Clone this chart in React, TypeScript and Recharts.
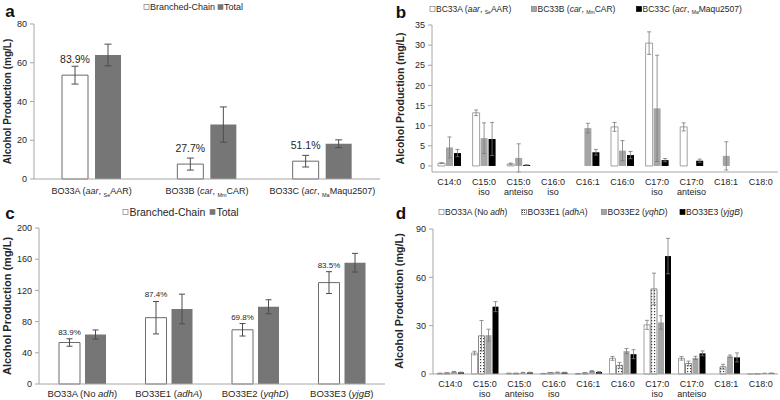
import React from "react"
import { BarChart, Bar, XAxis, YAxis, ErrorBar, LabelList } from "recharts"

const FONT = '"Liberation Sans", Arial, sans-serif'
const TEXT = "#262626"
const AXIS = "#a6a6a6"

// panel a
const aCategories = ["BO33A (*aar*, _Se_AAR)", "BO33B (*car*, _Mm_CAR)", "BO33C (*acr*, _Ma_Maqu2507)"]
const aBranched = [53.6, 7.7, 9.2]
const aBranchedErr = [4.6, 3.1, 3.0]
const aTotal = [64, 28.1, 18.2]
const aTotalErr = [5.6, 9.1, 2.0]
const aPercent = ["83.9%", "27.7%", "51.1%"]

// panel b
const fattyCategories = ["C14:0", "C15:0 iso", "C15:0 anteiso", "C16:0 iso", "C16:1", "C16:0", "C17:0 iso", "C17:0 anteiso", "C18:1", "C18:0"]
const bSeriesNames = ["BC33A (*aar*, _Se_AAR)", "BC33B (*car*, _Mm_CAR)", "BC33C (*acr*, _Ma_Maqu2507)"]
const bc33a = [0.7, 13.2, 0.5, 0, 0, 9.7, 30.5, 9.7, 0, 0]
const bc33aErr = [0.1, 0.7, 0.2, 0, 0, 1.1, 2.8, 1.0, 0, 0]
const bc33b = [4.6, 6.9, 2.0, 0, 9.4, 3.8, 14.3, 0, 2.5, 0]
const bc33bErr = [2.6, 3.8, 3.5, 0, 1.2, 2.5, 13.2, 0, 3.5, 0]
const bc33c = [3.2, 6.7, 0.25, 0, 3.4, 2.7, 1.45, 1.3, 0, 0]
const bc33cErr = [0.9, 4.1, 0.05, 0, 0.7, 0.9, 0.4, 0.4, 0, 0]

// panel c
const cCategories = ["BO33A (No *adh*)", "BO33E1 (*adhA*)", "BO33E2 (*yqhD*)", "BO33E3 (*yjgB*)"]
const cBranched = [53.2, 85, 69.5, 130]
const cBranchedErr = [4.8, 20.8, 8, 14]
const cTotal = [63.5, 96.2, 99, 155.5]
const cTotalErr = [5.8, 19, 9, 12]
const cPercent = ["83.9%", "87.4%", "69.8%", "83.5%"]

// panel d
const dSeriesNames = ["BO33A (No *adh*)", "BO33E1 (*adhA*)", "BO33E2 (*yqhD*)", "BO33E3 (*yjgB*)"]
const bo33a = [0.4, 13, 0.4, 0.3, 0.2, 9.7, 30.5, 9.7, 0, 0.1]
const bo33aErr = [0.1, 1.1, 0.1, 0.1, 0.1, 1.2, 2.8, 1.1, 0, 0]
const bo33e1 = [0.6, 23.7, 0.4, 0.8, 0.6, 5.4, 52.8, 6.5, 4.5, 0.2]
const bo33e1Err = [0.1, 9.5, 0.1, 0.1, 0.2, 1.8, 9.8, 1.5, 1.5, 0]
const bo33e2 = [1.4, 24.1, 0.8, 1.0, 1.8, 14.2, 32, 10, 11, 0.4]
const bo33e2Err = [0.2, 3.7, 0.2, 0.2, 0.3, 1.6, 4.2, 1.0, 0.8, 0.1]
const bo33e3 = [1.0, 41.8, 0.9, 0.9, 1.3, 12.3, 73.2, 12.8, 10.3, 0.5]
const bo33e3Err = [0.2, 3.1, 0.2, 0.2, 0.2, 2.8, 11, 1.5, 2.8, 0.1]

const aRows = aCategories.map((name, i) => ({
  name, bc: aBranched[i], bcErr: aBranchedErr[i], total: aTotal[i], totalErr: aTotalErr[i],
}))
const bRows = fattyCategories.map((name, i) => ({
  name, s1: bc33a[i], e1: bc33aErr[i], s2: bc33b[i], e2: bc33bErr[i], s3: bc33c[i], e3: bc33cErr[i],
}))
const cRows = cCategories.map((name, i) => ({
  name, bc: cBranched[i], bcErr: cBranchedErr[i], total: cTotal[i], totalErr: cTotalErr[i],
}))
const dRows = fattyCategories.map((name, i) => ({
  name, s1: bo33a[i], e1: bo33aErr[i], s2: bo33e1[i], e2: bo33e1Err[i],
  s3: bo33e2[i], e3: bo33e2Err[i], s4: bo33e3[i], e4: bo33e3Err[i],
}))

// tiny markup: *italic*, _subscript_
function Rich({ text, subSize = 5.5 }: { text: string; subSize?: number }) {
  const parts = text.split(/(\*[^*]+\*|_[^_]+_)/).filter(Boolean)
  let down = false
  return (
    <>
      {parts.map((p, i) => {
        const italic = p.startsWith("*")
        const sub = p.startsWith("_")
        const t = italic || sub ? p.slice(1, -1) : p
        let dy: number | undefined
        if (sub && !down) { dy = 3; down = true }
        else if (!sub && down) { dy = -3; down = false }
        return (
          <tspan key={i} dy={dy} fontStyle={italic ? "italic" : undefined} fontSize={sub ? subSize : undefined}>
            {t}
          </tspan>
        )
      })}
    </>
  )
}

function RichTick(props: any) {
  const { x, y, payload, offset, fontSize } = props
  return (
    <text x={x} y={y + offset} textAnchor="middle" fontSize={fontSize} fill={TEXT} fontFamily={FONT}>
      <Rich text={String(payload.value)} />
    </text>
  )
}

function TwoLineTick(props: any) {
  const { x, y, payload, offset, gap, fontSize } = props
  const label = String(payload.value)
  const cut = label.indexOf(" ")
  const lines = cut < 0 ? [label] : [label.slice(0, cut), label.slice(cut + 1)]
  return (
    <text x={x} y={y + offset} textAnchor="middle" fontSize={fontSize} fill={TEXT} fontFamily={FONT}>
      {lines.map((ln, i) => (
        <tspan key={i} x={x} dy={i === 0 ? 0 : gap}>{ln}</tspan>
      ))}
    </text>
  )
}

function pctLabel(values: number[], errs: number[], pcts: string[], fontSize: number, gap: number, fromErr: boolean) {
  return (props: any) => {
    const vb = props.viewBox || {}
    const x = vb.x ?? props.x
    const y = vb.y ?? props.y
    const w = vb.width ?? props.width
    const h = vb.height ?? props.height
    const v = Number(props.value)
    const i = props.index ?? values.indexOf(v)
    const errPx = fromErr && v ? (errs[i] * h) / v : 0
    return (
      <text x={x + w / 2} y={y - errPx - gap} textAnchor="middle" fontSize={fontSize} fill={TEXT} fontFamily={FONT}>
        {pcts[i]}
      </text>
    )
  }
}

const yTick = (fs: number) => ({ fontSize: fs, fill: TEXT, fontFamily: FONT })

function Swatch({ x, y, fill }: { x: number; y: number; fill: string }) {
  return <rect x={x} y={y - 2.5} width={5} height={5} fill={fill} stroke={fill === "#000" ? "#000" : "#7f7f7f"} strokeWidth={0.7} />
}

function LegendText({ x, y, text, fs }: { x: number; y: number; text: string; fs: number }) {
  return (
    <text x={x} y={y} fontSize={fs} fill={TEXT} fontFamily={FONT} dominantBaseline="central">
      <Rich text={text} subSize={fs * 0.6} />
    </text>
  )
}

function YTitle({ x, y, fs }: { x: number; y: number; fs: number }) {
  return (
    <text x={x} y={y} transform={`rotate(-90 ${x} ${y})`} textAnchor="middle" dominantBaseline="central"
      fontSize={fs} fontWeight="bold" fill={TEXT} fontFamily={FONT}>
      Alcohol Production (mg/L)
    </text>
  )
}

function Letter({ x, y, t }: { x: number; y: number; t: string }) {
  return (
    <text x={x} y={y} textAnchor="middle" dominantBaseline="central" fontSize={17} fontWeight="bold" fill="#111" fontFamily={FONT}>
      {t}
    </text>
  )
}

const box = (left: number, top: number): React.CSSProperties => ({ position: "absolute", left, top })

export default function App() {
  return (
    <div style={{ position: "absolute", left: 0, top: 0, width: 780, height: 400, background: "#fff", fontFamily: FONT, overflow: "hidden" }}>
      {/* a */}
      <div style={box(0, 0)}>
        <BarChart width={390} height={200} data={aRows} margin={{ top: 24, right: 10, bottom: 0, left: 0 }} barSize={26} barGap={7}>
          <XAxis dataKey="name" interval={0} height={21} tickLine={false} tickSize={0} tickMargin={0}
            axisLine={{ stroke: AXIS }} tick={(p: any) => <RichTick {...p} offset={15} fontSize={9} />} />
          <YAxis type="number" domain={[0, 80]} ticks={[0, 20, 40, 60, 80]} width={34} tickSize={4} tickMargin={3}
            axisLine={{ stroke: AXIS }} tickLine={{ stroke: AXIS }} tick={yTick(9)} />
          <Bar dataKey="bc" fill="#fff" stroke="#6b6b6b" strokeWidth={1} isAnimationActive={false}>
            <ErrorBar dataKey="bcErr" width={3.5} stroke="#4d4d4d" strokeWidth={1} isAnimationActive={false} />
            <LabelList dataKey="bc" content={pctLabel(aBranched, aBranchedErr, aPercent, 10.5, 12, false)} />
          </Bar>
          <Bar dataKey="total" fill="#767676" isAnimationActive={false}>
            <ErrorBar dataKey="totalErr" width={3.5} stroke="#4d4d4d" strokeWidth={1} isAnimationActive={false} />
          </Bar>
        </BarChart>
      </div>
      {/* b */}
      <div style={box(390, 0)}>
        <BarChart width={390} height={200} data={bRows} margin={{ top: 25, right: 2, bottom: 0, left: 0 }} barSize={7} barGap={1}>
          <XAxis dataKey="name" interval={0} height={28} tickLine={false} tickSize={0} tickMargin={0}
            axisLine={{ stroke: AXIS }} tick={(p: any) => <TwoLineTick {...p} offset={12.5} gap={10.5} fontSize={9} />} />
          <YAxis type="number" domain={[0, 35]} ticks={[0, 5, 10, 15, 20, 25, 30, 35]} width={42} tickSize={4} tickMargin={3}
            axisLine={{ stroke: AXIS }} tickLine={{ stroke: AXIS }} tick={yTick(9)} />
          <Bar dataKey="s1" fill="#fff" stroke="#8c8c8c" strokeWidth={0.8} isAnimationActive={false}>
            <ErrorBar dataKey="e1" width={2} stroke="#7a7a7a" strokeWidth={0.8} isAnimationActive={false} />
          </Bar>
          <Bar dataKey="s2" fill="#a5a5a5" isAnimationActive={false}>
            <ErrorBar dataKey="e2" width={2} stroke="#7a7a7a" strokeWidth={0.8} isAnimationActive={false} />
          </Bar>
          <Bar dataKey="s3" fill="#000" isAnimationActive={false}>
            <ErrorBar dataKey="e3" width={2} stroke="#7a7a7a" strokeWidth={0.8} isAnimationActive={false} />
          </Bar>
        </BarChart>
      </div>
      {/* c */}
      <div style={box(0, 200)}>
        <BarChart width={390} height={200} data={cRows} margin={{ top: 28, right: 5, bottom: 0, left: 0 }} barSize={21} barGap={5}>
          <XAxis dataKey="name" interval={0} height={16} tickLine={false} tickSize={0} tickMargin={0}
            axisLine={{ stroke: AXIS }} tick={(p: any) => <RichTick {...p} offset={12.5} fontSize={9.5} />} />
          <YAxis type="number" domain={[0, 200]} ticks={[0, 40, 80, 120, 160, 200]} width={39} tickSize={4} tickMargin={3}
            axisLine={{ stroke: AXIS }} tickLine={{ stroke: AXIS }} tick={yTick(9)} />
          <Bar dataKey="bc" fill="#fff" stroke="#6b6b6b" strokeWidth={1} isAnimationActive={false}>
            <ErrorBar dataKey="bcErr" width={3} stroke="#4d4d4d" strokeWidth={1} isAnimationActive={false} />
            <LabelList dataKey="bc" content={pctLabel(cBranched, cBranchedErr, cPercent, 8, 4, true)} />
          </Bar>
          <Bar dataKey="total" fill="#767676" isAnimationActive={false}>
            <ErrorBar dataKey="totalErr" width={3} stroke="#4d4d4d" strokeWidth={1} isAnimationActive={false} />
          </Bar>
        </BarChart>
      </div>
      {/* d */}
      <div style={box(390, 200)}>
        <BarChart width={390} height={200} data={dRows} margin={{ top: 29, right: 2, bottom: 0, left: 0 }} barSize={6} barGap={1}>
          <defs>
            <pattern id="dotFill" width="3" height="3" patternUnits="userSpaceOnUse">
              <rect width="3" height="3" fill="#fff" />
              <rect width="1.2" height="1.2" fill="#3a3a3a" />
            </pattern>
          </defs>
          <XAxis dataKey="name" interval={0} height={26} tickLine={false} tickSize={0} tickMargin={0}
            axisLine={{ stroke: AXIS }} tick={(p: any) => <TwoLineTick {...p} offset={13} gap={9.5} fontSize={9} />} />
          <YAxis type="number" domain={[0, 90]} ticks={[0, 30, 60, 90]} width={43} tickSize={4} tickMargin={3}
            axisLine={{ stroke: AXIS }} tickLine={{ stroke: AXIS }} tick={yTick(9)} />
          <Bar dataKey="s1" fill="#fff" stroke="#8c8c8c" strokeWidth={0.8} isAnimationActive={false}>
            <ErrorBar dataKey="e1" width={2} stroke="#7a7a7a" strokeWidth={0.8} isAnimationActive={false} />
          </Bar>
          <Bar dataKey="s2" fill="url(#dotFill)" stroke="#6b6b6b" strokeWidth={0.8} isAnimationActive={false}>
            <ErrorBar dataKey="e2" width={2} stroke="#7a7a7a" strokeWidth={0.8} isAnimationActive={false} />
          </Bar>
          <Bar dataKey="s3" fill="#a5a5a5" isAnimationActive={false}>
            <ErrorBar dataKey="e3" width={2} stroke="#7a7a7a" strokeWidth={0.8} isAnimationActive={false} />
          </Bar>
          <Bar dataKey="s4" fill="#000" isAnimationActive={false}>
            <ErrorBar dataKey="e4" width={2} stroke="#7a7a7a" strokeWidth={0.8} isAnimationActive={false} />
          </Bar>
        </BarChart>
      </div>
      {/* letters, legends, axis titles */}
      <svg width={780} height={400} style={{ position: "absolute", left: 0, top: 0, pointerEvents: "none" }}>
        <defs>
          <pattern id="dotFillLegend" width="2" height="2" patternUnits="userSpaceOnUse">
            <rect width="2" height="2" fill="#fff" />
            <rect width="1" height="1" fill="#3a3a3a" />
          </pattern>
        </defs>
        <Letter x={10} y={11} t="a" />
        <Letter x={401} y={12} t="b" />
        <Letter x={10} y={213} t="c" />
        <Letter x={401} y={213} t="d" />

        <YTitle x={7} y={101.5} fs={10} />
        <YTitle x={400} y={98.5} fs={10.5} />
        <YTitle x={7} y={306} fs={11} />
        <YTitle x={399} y={301} fs={10.8} />

        <Swatch x={144} y={7} fill="#fff" />
        <LegendText x={150} y={7} text="Branched-Chain" fs={9} />
        <Swatch x={218} y={7} fill="#767676" />
        <LegendText x={224} y={7} text="Total" fs={9} />

        <Swatch x={430} y={9} fill="#fff" />
        <LegendText x={436} y={9} text={bSeriesNames[0]} fs={8.5} />
        <Swatch x={531.5} y={9} fill="#a5a5a5" />
        <LegendText x={537.5} y={9} text={bSeriesNames[1]} fs={8.5} />
        <Swatch x={636.5} y={9} fill="#000" />
        <LegendText x={642.5} y={9} text={bSeriesNames[2]} fs={8.5} />

        <Swatch x={123} y={212} fill="#fff" />
        <LegendText x={129.5} y={212} text="Branched-Chain" fs={10.5} />
        <Swatch x={210} y={212} fill="#767676" />
        <LegendText x={216.5} y={212} text="Total" fs={10.5} />

        <Swatch x={439} y={212} fill="#fff" />
        <LegendText x={445} y={212} text={dSeriesNames[0]} fs={8.5} />
        <Swatch x={521.5} y={212} fill="url(#dotFillLegend)" />
        <LegendText x={527.5} y={212} text={dSeriesNames[1]} fs={8.5} />
        <Swatch x={601.5} y={212} fill="#a5a5a5" />
        <LegendText x={607.5} y={212} text={dSeriesNames[2]} fs={8.5} />
        <Swatch x={680} y={212} fill="#000" />
        <LegendText x={686} y={212} text={dSeriesNames[3]} fs={8.5} />
      </svg>
    </div>
  )
}
